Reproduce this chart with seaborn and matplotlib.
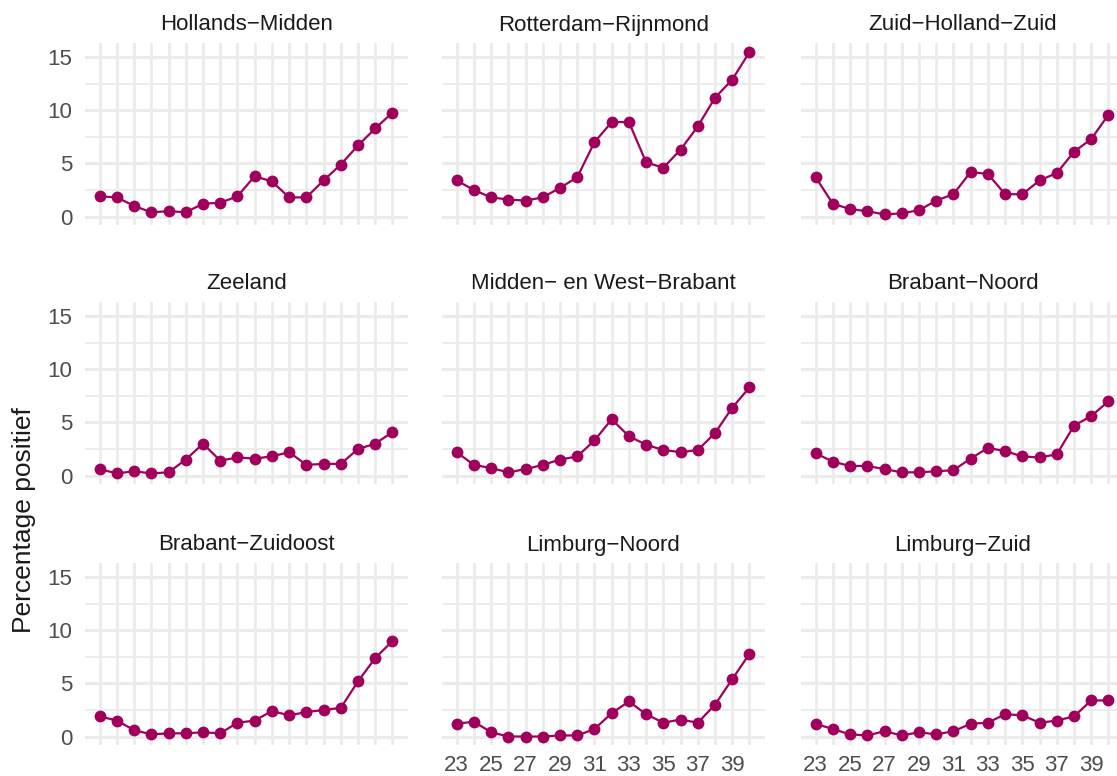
import numpy as np
import pandas as pd

import matplotlib
matplotlib.use("Agg")
import matplotlib.pyplot as plt
import seaborn as sns

# weeks 23 .. 40
weeks = list(range(23, 41))

regions = [
    "Hollands\u2212Midden",
    "Rotterdam\u2212Rijnmond",
    "Zuid\u2212Holland\u2212Zuid",
    "Zeeland",
    "Midden\u2212 en West\u2212Brabant",
    "Brabant\u2212Noord",
    "Brabant\u2212Zuidoost",
    "Limburg\u2212Noord",
    "Limburg\u2212Zuid",
]

hollands_midden = [1.9, 1.8, 1.0, 0.4, 0.5, 0.4, 1.2, 1.3, 1.9, 3.8, 3.3,
                   1.8, 1.8, 3.4, 4.9, 6.7, 8.3, 9.8]
rotterdam_rijnmond = [3.4, 2.5, 1.8, 1.6, 1.5, 1.8, 2.7, 3.7, 7.0, 8.9, 8.9,
                      5.1, 4.6, 6.3, 8.5, 11.2, 12.9, 15.5]
zuid_holland_zuid = [3.7, 1.2, 0.7, 0.5, 0.2, 0.3, 0.6, 1.5, 2.1, 4.2, 4.0,
                     2.1, 2.1, 3.4, 4.1, 6.1, 7.3, 9.6]
zeeland = [0.6, 0.2, 0.4, 0.2, 0.3, 1.5, 3.0, 1.4, 1.7, 1.6, 1.8, 2.2,
           1.0, 1.1, 1.1, 2.5, 3.0, 4.1]
midden_west_brabant = [2.2, 1.0, 0.7, 0.3, 0.6, 1.0, 1.5, 1.8, 3.3, 5.3,
                       3.7, 2.9, 2.4, 2.2, 2.4, 4.0, 6.4, 8.3]
brabant_noord = [2.1, 1.3, 0.9, 0.9, 0.6, 0.3, 0.3, 0.4, 0.5, 1.6, 2.6,
                 2.3, 1.8, 1.7, 2.0, 4.7, 5.6, 7.0]
brabant_zuidoost = [1.9, 1.5, 0.6, 0.2, 0.3, 0.3, 0.4, 0.3, 1.3, 1.5, 2.4,
                    2.0, 2.3, 2.5, 2.7, 5.2, 7.4, 9.0]
limburg_noord = [1.2, 1.4, 0.4, 0.0, 0.0, 0.0, 0.1, 0.1, 0.7, 2.2, 3.3,
                 2.1, 1.3, 1.6, 1.3, 3.0, 5.4, 7.8]
limburg_zuid = [1.2, 0.7, 0.2, 0.1, 0.5, 0.1, 0.4, 0.2, 0.5, 1.2, 1.3,
                2.1, 2.0, 1.3, 1.5, 1.9, 3.4, 3.4]

series = [hollands_midden, rotterdam_rijnmond, zuid_holland_zuid, zeeland,
          midden_west_brabant, brabant_noord, brabant_zuidoost,
          limburg_noord, limburg_zuid]

x_ticks = list(range(23, 41, 2))

df = pd.DataFrame({
    "week": weeks * len(regions),
    "pct": np.concatenate(series),
    "regio": np.repeat(regions, len(weeks)),
})

sns.set_theme(style="white")
plt.rcParams["font.family"] = ["Liberation Sans", "DejaVu Sans"]

colour = "#A0005C"
grid_col = "#EBEBEB"

W, H = 1117, 776
fig = plt.figure(figsize=(W / 100, H / 100), dpi=100)

col_left = [85, 442, 801]
row_top = [43, 302, 563]
pw, ph = 323, 182

for i, reg in enumerate(regions):
    r, c = divmod(i, 3)
    ax = fig.add_axes([col_left[c] / W, 1 - (row_top[r] + ph) / H, pw / W, ph / H])
    sub = df[df["regio"] == reg]

    sns.lineplot(data=sub, x="week", y="pct", ax=ax, color=colour,
                 linewidth=1.6, marker="o", markersize=8.5,
                 markeredgewidth=0, zorder=3)

    ax.set_xlim(22.15, 40.9)
    ax.set_ylim(-0.8, 16.35)
    ax.set_xticks(x_ticks)
    ax.set_xticks(weeks, minor=True)
    ax.set_yticks([0, 5, 10, 15])
    ax.set_yticks([2.5, 7.5, 12.5], minor=True)
    ax.xaxis.grid(which="both", color=grid_col, linewidth=2.0)
    ax.yaxis.grid(which="major", color=grid_col, linewidth=2.2)
    ax.yaxis.grid(which="minor", color=grid_col, linewidth=1.3)
    ax.set_axisbelow(True)
    for s in ax.spines.values():
        s.set_visible(False)
    ax.tick_params(which="both", length=0)
    ax.set_xlabel("")
    ax.set_ylabel("")

    if c == 0:
        ax.set_yticklabels(["0", "5", "10", "15"], fontsize=16, color="#4D4D4D")
        ax.tick_params(axis="y", pad=9)
    else:
        ax.set_yticklabels([])

    if r == 2 and c > 0:
        ax.set_xticklabels([str(t) for t in x_ticks], fontsize=16, color="#4D4D4D")
        ax.tick_params(axis="x", pad=7)
    else:
        ax.set_xticklabels([])

    ax.set_title(reg, fontsize=16, color="#1A1A1A", pad=9)

fig.text(24 / W, 1 - 520 / H, "Percentage positief", rotation=90,
         ha="center", va="center", fontsize=19, color="#1A1A1A")

fig.savefig("out.png", dpi=100, facecolor="white")
